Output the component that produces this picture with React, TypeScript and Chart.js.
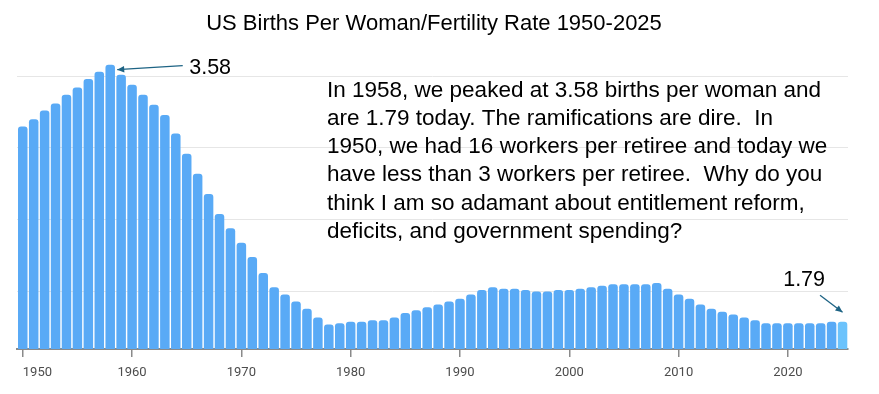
import React, { useEffect, useRef } from "react";
import { Chart, registerables } from "chart.js";

Chart.register(...registerables);

const years: number[] = [
  1950, 1951, 1952, 1953, 1954, 1955, 1956, 1957, 1958, 1959,
  1960, 1961, 1962, 1963, 1964, 1965, 1966, 1967, 1968, 1969,
  1970, 1971, 1972, 1973, 1974, 1975, 1976, 1977, 1978, 1979,
  1980, 1981, 1982, 1983, 1984, 1985, 1986, 1987, 1988, 1989,
  1990, 1991, 1992, 1993, 1994, 1995, 1996, 1997, 1998, 1999,
  2000, 2001, 2002, 2003, 2004, 2005, 2006, 2007, 2008, 2009,
  2010, 2011, 2012, 2013, 2014, 2015, 2016, 2017, 2018, 2019,
  2020, 2021, 2022, 2023, 2024, 2025,
];

const birthsPerWoman: number[] = [
  3.15, 3.20, 3.26, 3.31, 3.37, 3.42, 3.48, 3.53, 3.58, 3.51,
  3.44, 3.37, 3.30, 3.23, 3.10, 2.96, 2.82, 2.68, 2.54, 2.44,
  2.34, 2.24, 2.13, 2.03, 1.98, 1.93, 1.88, 1.82, 1.77, 1.78,
  1.79, 1.79, 1.80, 1.80, 1.82, 1.85, 1.87, 1.89, 1.91, 1.93,
  1.95, 1.98, 2.01, 2.03, 2.02, 2.02, 2.01, 2.00, 2.00, 2.01,
  2.01, 2.02, 2.03, 2.04, 2.05, 2.05, 2.05, 2.05, 2.06, 2.02,
  1.98, 1.95, 1.91, 1.88, 1.86, 1.84, 1.82, 1.80, 1.78, 1.78,
  1.78, 1.78, 1.78, 1.78, 1.79, 1.79,
];

const gridValues: number[] = [2.0, 2.5, 3.0, 3.5];

const TITLE = "US Births Per Woman/Fertility Rate 1950-2025";
const PARAGRAPH: string[] = [
  "In 1958, we peaked at 3.58 births per woman and",
  "are 1.79 today. The ramifications are dire.  In",
  "1950, we had 16 workers per retiree and today we",
  "have less than 3 workers per retiree.  Why do you",
  "think I am so adamant about entitlement reform,",
  "deficits, and government spending?",
];
const PEAK_YEAR = 1958;
const PEAK_LABEL = "3.58";
const LAST_YEAR = 2025;
const LAST_LABEL = "1.79";

const BAR_COLOR = "#59aaf6";
const LAST_BAR_COLOR = "#6cc3fc";
const ARROW_COLOR = "#1d6384";
const TITLE_FONT = '22px "Liberation Sans", Arial, sans-serif';
const TEXT_FONT = '22.5px "Liberation Sans", Arial, sans-serif';
const LABEL_FONT = '21.5px "Liberation Sans", Arial, sans-serif';

function drawArrow(ctx: CanvasRenderingContext2D, x1: number, y1: number, x2: number, y2: number) {
  ctx.beginPath();
  ctx.moveTo(x1, y1);
  ctx.lineTo(x2, y2);
  ctx.stroke();
  const a = Math.atan2(y2 - y1, x2 - x1);
  const L = 7;
  const W = 3.2;
  ctx.beginPath();
  ctx.moveTo(x2, y2);
  ctx.lineTo(x2 - L * Math.cos(a) + W * Math.sin(a), y2 - L * Math.sin(a) - W * Math.cos(a));
  ctx.lineTo(x2 - L * Math.cos(a) - W * Math.sin(a), y2 - L * Math.sin(a) + W * Math.cos(a));
  ctx.closePath();
  ctx.fill();
}

const overlayPlugin = {
  id: "overlayText",
  afterDraw(chart: any) {
    const ctx: CanvasRenderingContext2D = chart.ctx;
    const x = chart.scales.x;
    const y = chart.scales.y;
    ctx.save();
    ctx.fillStyle = "#000";
    ctx.font = TITLE_FONT;
    ctx.textBaseline = "alphabetic";
    ctx.textAlign = "center";
    ctx.fillText(TITLE, 434, 30);

    ctx.font = TEXT_FONT;
    ctx.textAlign = "left";
    PARAGRAPH.forEach((line, i) => ctx.fillText(line, 327, 96.5 + i * 28.3));

    ctx.font = LABEL_FONT;
    // peak annotation
    const pi = years.indexOf(PEAK_YEAR);
    const px = x.getPixelForValue(pi);
    const py = y.getPixelForValue(birthsPerWoman[pi]);
    ctx.strokeStyle = ARROW_COLOR;
    ctx.fillStyle = ARROW_COLOR;
    ctx.lineWidth = 1.3;
    drawArrow(ctx, px + 72.5, py + 1, px + 7, py + 5);
    ctx.fillStyle = "#000";
    ctx.fillText(PEAK_LABEL, px + 79, py + 9);

    // last annotation
    const li = years.indexOf(LAST_YEAR);
    const lx = x.getPixelForValue(li);
    const ly = y.getPixelForValue(birthsPerWoman[li]);
    ctx.strokeStyle = ARROW_COLOR;
    ctx.fillStyle = ARROW_COLOR;
    drawArrow(ctx, lx - 22.5, ly - 26.5, lx, ly - 9.5);
    ctx.fillStyle = "#000";
    ctx.textAlign = "right";
    ctx.fillText(LAST_LABEL, lx - 17.5, ly - 35.5);
    ctx.restore();
  },
};

export default function App() {
  const ref = useRef<HTMLCanvasElement | null>(null);

  useEffect(() => {
    if (!ref.current) return;
    const lastIdx = years.length - 1;
    const chart = new Chart(ref.current, {
      type: "bar",
      data: {
        labels: years.map(String),
        datasets: [
          {
            data: birthsPerWoman,
            backgroundColor: years.map((_, i) => (i === lastIdx ? LAST_BAR_COLOR : BAR_COLOR)),
            borderWidth: 0,
            borderRadius: { topLeft: 3, topRight: 3, bottomLeft: 0, bottomRight: 0 },
            borderSkipped: "bottom",
            barPercentage: 0.87,
            categoryPercentage: 1.0,
          },
        ],
      },
      options: {
        responsive: false,
        animation: false,
        devicePixelRatio: 1,
        layout: { padding: { left: 17.3, right: 31, top: 47.4, bottom: 0 } },
        plugins: {
          legend: { display: false },
          title: { display: false },
          tooltip: { enabled: false },
        },
        scales: {
          x: {
            grid: {
              display: true,
              drawOnChartArea: false,
              drawTicks: true,
              tickLength: 8,
              offset: false,
              lineWidth: 1.5,
              color: (c: any) => (years[c.index] % 10 === 0 ? "#8a8a8a" : "rgba(0,0,0,0)"),
            },
            border: { display: true, color: "#8a8a8a", width: 2 },
            ticks: {
              autoSkip: false,
              maxRotation: 0,
              minRotation: 0,
              padding: 8,
              align: "inner",
              color: "#4d4d4d",
              font: { family: "Roboto", size: 13 },
              callback: (_v: any, i: number) => (years[i] % 10 === 0 ? String(years[i]) : ""),
            },
            afterFit: (s: any) => {
              s.height = 45;
            },
          },
          y: {
            min: 1.6,
            max: 3.7,
            afterBuildTicks: (s: any) => {
              s.ticks = gridValues.map((v) => ({ value: v }));
            },
            grid: { color: "#e6e6e6", lineWidth: 1, drawTicks: false },
            border: { display: false },
            ticks: { display: false },
            afterFit: (s: any) => {
              s.width = 0;
            },
          },
        },
      },
      plugins: [overlayPlugin],
    } as any);
    return () => chart.destroy();
  }, []);

  return (
    <div style={{ position: "fixed", left: 0, top: 0, width: 879, height: 394, background: "#fff" }}>
      <canvas ref={ref} width={879} height={394} style={{ width: 879, height: 394 }} />
    </div>
  );
}
